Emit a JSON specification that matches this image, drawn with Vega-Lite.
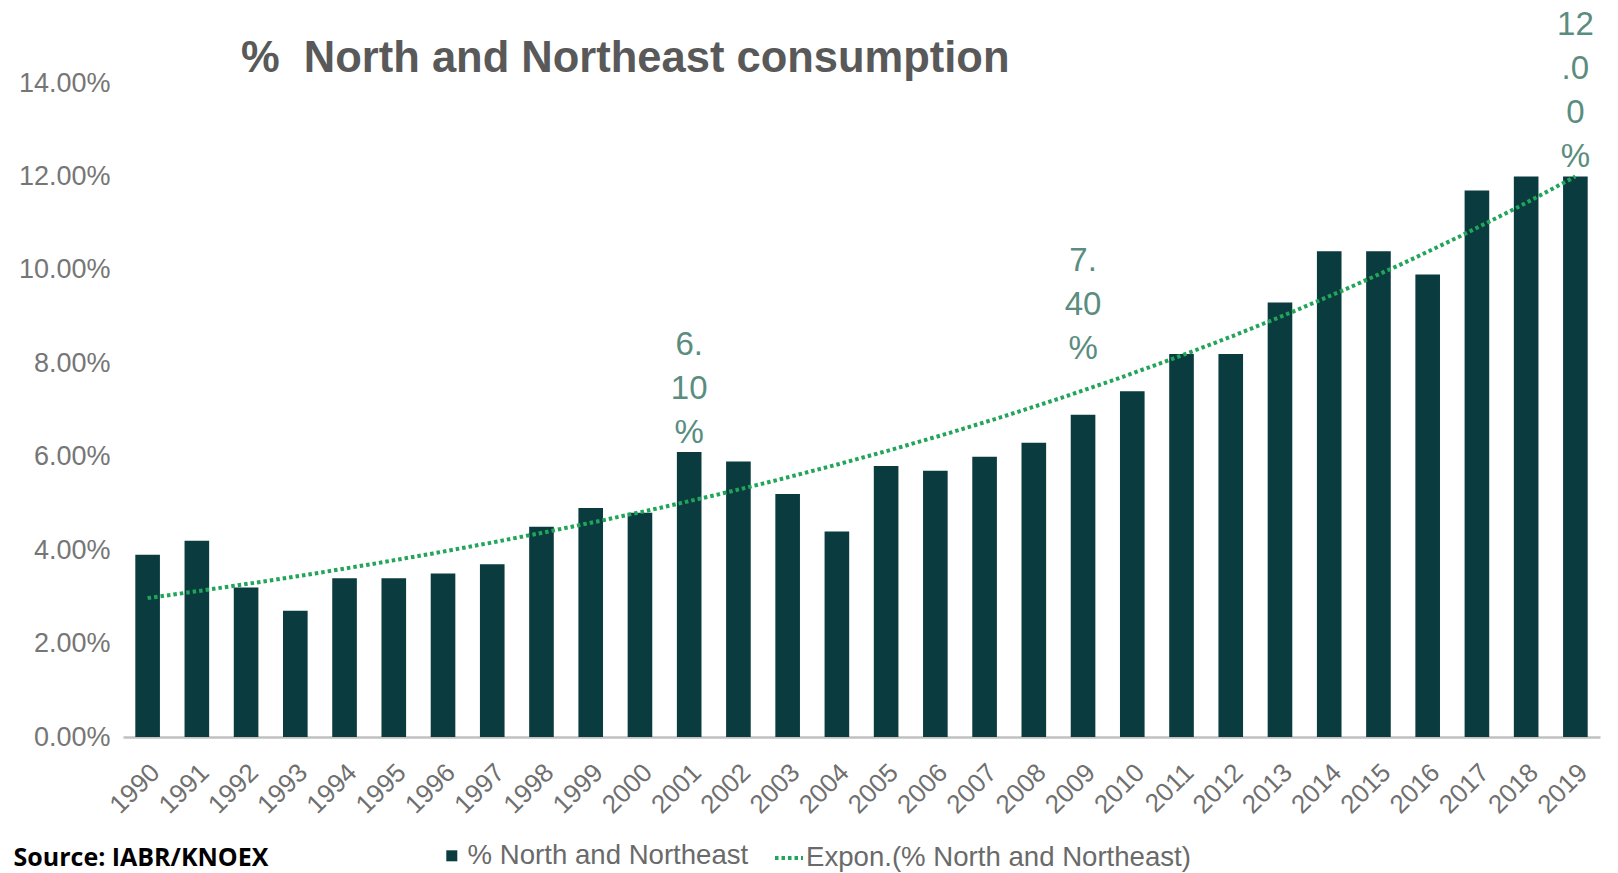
{
  "$schema": "https://vega.github.io/schema/vega-lite/v6.json",
  "width": 1477,
  "height": 654,
  "autosize": {"type": "none"},
  "padding": {"left": 123, "top": 83, "right": 18, "bottom": 136},
  "background": "white",
  "title": {
    "text": "%\u00a0 North and Northeast consumption",
    "anchor": "start",
    "frame": "group",
    "font": "Liberation Sans",
    "fontSize": 43.5,
    "fontWeight": "bold",
    "color": "#595959",
    "dx": 118,
    "dy": 72,
    "offset": 0
  },
  "datasets": {
    "main": [
      {"year": 1990, "value": 0.039},
      {"year": 1991, "value": 0.042},
      {"year": 1992, "value": 0.032},
      {"year": 1993, "value": 0.027},
      {"year": 1994, "value": 0.034},
      {"year": 1995, "value": 0.034},
      {"year": 1996, "value": 0.035},
      {"year": 1997, "value": 0.037},
      {"year": 1998, "value": 0.045},
      {"year": 1999, "value": 0.049},
      {"year": 2000, "value": 0.048},
      {"year": 2001, "value": 0.061},
      {"year": 2002, "value": 0.059},
      {"year": 2003, "value": 0.052},
      {"year": 2004, "value": 0.044},
      {"year": 2005, "value": 0.058},
      {"year": 2006, "value": 0.057},
      {"year": 2007, "value": 0.060},
      {"year": 2008, "value": 0.063},
      {"year": 2009, "value": 0.069},
      {"year": 2010, "value": 0.074},
      {"year": 2011, "value": 0.082},
      {"year": 2012, "value": 0.082},
      {"year": 2013, "value": 0.093},
      {"year": 2014, "value": 0.104},
      {"year": 2015, "value": 0.104},
      {"year": 2016, "value": 0.099},
      {"year": 2017, "value": 0.117},
      {"year": 2018, "value": 0.120},
      {"year": 2019, "value": 0.120}
    ],
    "labels": [
      {"year": 2001, "value": 0.061, "label": "6.|10|%"},
      {"year": 2009, "value": 0.074, "label": "7.|40|%"},
      {"year": 2019, "value": 0.120, "label": "12|.0|0|%"}
    ]
  },
  "layer": [
    {
      "layer": [
        {
          "data": {"name": "main"},
          "mark": {"type": "bar"},
          "encoding": {
            "x": {
              "field": "year",
              "type": "ordinal",
              "scale": {"paddingInner": 0.5, "paddingOuter": 0.25},
              "axis": {
                "title": "Source: IABR/KNOEX",
                "titleFont": "Open Sans",
                "titleFontSize": 25,
                "titleFontWeight": "bold",
                "titleColor": "#000000",
                "titleAnchor": "start",
                "titleAlign": "left",
                "titleBaseline": "alphabetic",
                "titleX": -110,
                "titleY": 128,
                "labelAngle": -45,
                "labelAlign": "right",
                "labelBaseline": "middle",
                "labelFont": "Liberation Sans",
                "labelFontSize": 26,
                "labelColor": "#6f6f6f",
                "labelPadding": 31,
                "labelOffset": 8,
                "labelOverlap": false,
                "ticks": false,
                "domainColor": "#c0c0c0",
                "domainWidth": 2.5,
                "grid": false
              }
            },
            "y": {
              "field": "value",
              "type": "quantitative",
              "scale": {"domain": [0, 0.14], "nice": false},
              "axis": {
                "title": null,
                "format": ".2%",
                "values": [0, 0.02, 0.04, 0.06, 0.08, 0.1, 0.12, 0.14],
                "labelFont": "Liberation Sans",
                "labelFontSize": 27,
                "labelColor": "#767676",
                "labelPadding": 13,
                "ticks": false,
                "domain": false,
                "grid": false
              }
            },
            "fill": {
              "datum": "% North and Northeast",
              "scale": {"range": ["#0a3b3f"]},
              "legend": {
                "orient": "none",
                "legendX": 315,
                "legendY": 759,
                "title": null,
                "padding": 0,
                "symbolType": "square",
                "symbolSize": 121,
                "symbolStrokeWidth": 0,
                "labelFont": "Liberation Sans",
                "labelFontSize": 27.6,
                "labelColor": "#6a6a6a",
                "labelOffset": 2,
                "labelLimit": 0
              }
            }
          }
        },
        {
          "data": {"name": "labels"},
          "transform": [{"filter": "datum.year == 2001"}],
          "mark": {
            "type": "text",
            "lineBreak": "|",
            "font": "Liberation Sans",
            "fontSize": 33,
            "lineHeight": 44,
            "baseline": "bottom",
            "align": "center",
            "dy": -90,
            "color": "#5a8d80"
          },
          "encoding": {
            "x": {"field": "year", "type": "ordinal"},
            "y": {"field": "value", "type": "quantitative"},
            "text": {"field": "label", "type": "nominal"}
          }
        },
        {
          "data": {"name": "labels"},
          "transform": [{"filter": "datum.year == 2009"}],
          "mark": {
            "type": "text",
            "lineBreak": "|",
            "font": "Liberation Sans",
            "fontSize": 33,
            "lineHeight": 44,
            "baseline": "bottom",
            "align": "center",
            "dy": -113,
            "color": "#5a8d80"
          },
          "encoding": {
            "x": {"field": "year", "type": "ordinal"},
            "y": {"field": "value", "type": "quantitative"},
            "text": {"field": "label", "type": "nominal"}
          }
        },
        {
          "data": {"name": "labels"},
          "transform": [{"filter": "datum.year == 2019"}],
          "mark": {
            "type": "text",
            "lineBreak": "|",
            "font": "Liberation Sans",
            "fontSize": 33,
            "lineHeight": 44,
            "baseline": "bottom",
            "align": "center",
            "dy": -134,
            "color": "#5a8d80"
          },
          "encoding": {
            "x": {"field": "year", "type": "ordinal"},
            "y": {"field": "value", "type": "quantitative"},
            "text": {"field": "label", "type": "nominal"}
          }
        }
      ]
    },
    {
      "data": {"name": "main"},
      "transform": [{"regression": "value", "on": "year", "method": "exp"}],
      "mark": {"type": "line", "strokeDash": [3.5, 3], "strokeWidth": 4},
      "encoding": {
        "x": {
          "field": "year",
          "type": "quantitative",
          "scale": {"domain": [1989.5, 2019.5], "nice": false, "zero": false},
          "axis": null
        },
        "y": {"field": "value", "type": "quantitative"},
        "stroke": {
          "datum": "Expon.(% North and Northeast)",
          "scale": {"range": ["#22a55a"]},
          "legend": {
            "orient": "none",
            "legendX": 650,
            "legendY": 759,
            "title": null,
            "padding": 0,
            "symbolType": "stroke",
            "symbolSize": 784,
            "symbolDash": [3.5, 3],
            "symbolStrokeWidth": 4,
            "labelFont": "Liberation Sans",
            "labelFontSize": 27.6,
            "labelColor": "#6a6a6a",
            "labelOffset": 1,
            "labelLimit": 0
          }
        }
      }
    }
  ],
  "resolve": {"scale": {"x": "independent"}},
  "config": {"view": {"stroke": null}, "font": "Liberation Sans"}
}
